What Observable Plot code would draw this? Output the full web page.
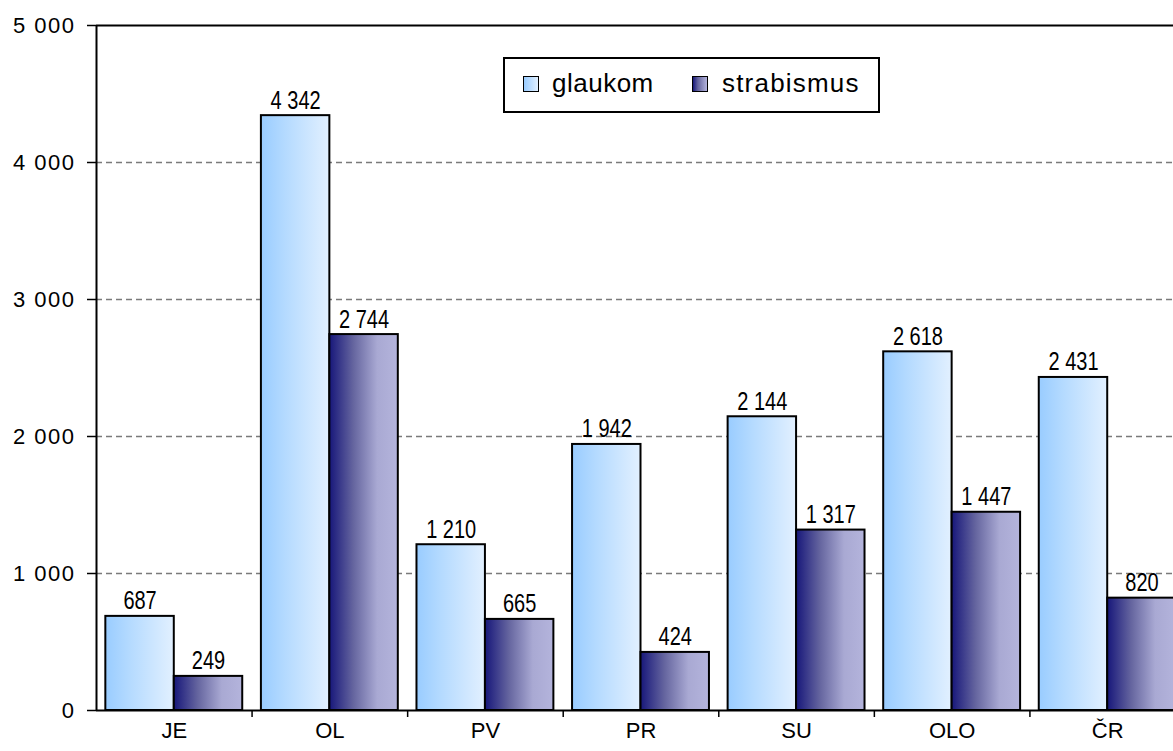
<!DOCTYPE html>
<html><head><meta charset="utf-8">
<script src="https://cdn.jsdelivr.net/npm/d3@7"></script>
<script src="https://cdn.jsdelivr.net/npm/@observablehq/plot@0.6"></script>
<style>
html,body{margin:0;padding:0;overflow:hidden;background:#fff;}
#wrap{position:relative;width:1173px;height:751px;overflow:hidden;}
#wrap svg{position:absolute;left:0;top:0;max-width:none !important;}
#legend{position:absolute;left:503px;top:57px;width:373px;height:52px;border:2px solid #000;background:#fff;
  font-family:"Liberation Sans",Arial,sans-serif;font-size:26px;color:#000;}
#legend .sw{position:absolute;top:17px;width:14px;height:14px;border:1.5px solid #000;}
#legend .lb{position:absolute;top:9px;line-height:30px;}
</style></head><body><div id="wrap"></div>
<script>
const categories = ["JE","OL","PV","PR","SU","OLO","ČR"];
const seriesNames = ["glaukom","strabismus"];
const glaukom = [687,4342,1210,1942,2144,2618,2431];
const strabismus = [249,2744,665,424,1317,1447,820];
const yTicks = [0,1000,2000,3000,4000,5000];
const gridTicks = [1000,2000,3000,4000];

const loc = d3.formatLocale({decimal:",", thousands:"\u00a0", grouping:[3], currency:["",""]});
const fmt = loc.format(",d");

const rows = [];
categories.forEach((c,i)=>{
  rows.push({cat:c, i, s:0, value:glaukom[i], x1:i+0.06, x2:i+0.5});
  rows.push({cat:c, i, s:1, value:strabismus[i], x1:i+0.5, x2:i+0.94});
});

const defs = () => {
  const d = d3.create("svg:defs");
  const g1 = d.append("linearGradient").attr("id","gradG").attr("x1",0).attr("x2",1).attr("y1",0).attr("y2",0);
  [[0,"#99ccff"],[0.35,"#b4daff"],[1,"#e2f0ff"]].forEach(([o,c])=>g1.append("stop").attr("offset",o).attr("stop-color",c));
  const g2 = d.append("linearGradient").attr("id","gradS").attr("x1",0).attr("x2",1).attr("y1",0).attr("y2",0);
  [[0,"#17177a"],[0.35,"#65659f"],[0.7,"#a9a9d3"],[1,"#b4b4dc"]].forEach(([o,c])=>g2.append("stop").attr("offset",o).attr("stop-color",c));
  return d.node();
};

const chart = Plot.plot({
  width: 1186,
  height: 751,
  marginTop: 25,
  marginBottom: 41,
  marginLeft: 96,
  marginRight: 1,
  style: {fontFamily: "'Liberation Sans', Arial, sans-serif", background: "transparent", color: "#000", overflow: "visible"},
  x: {domain: [0, categories.length], axis: null},
  y: {domain: [0, 5000], axis: null},
  marks: [
    defs,
    Plot.ruleY(gridTicks, {stroke: "#7a7a7a", strokeWidth: 1.5, strokeDasharray: "6,4"}),
    Plot.ruleY([5000], {stroke: "#000", strokeWidth: 2}),
    Plot.rectY(rows, {x1: "x1", x2: "x2", y1: 0, y2: "value",
      fill: d => d.s === 0 ? "url(#gradG)" : "url(#gradS)", stroke: "#000", strokeWidth: 2}),
    Plot.text(rows, {x: d => (d.x1 + d.x2) / 2, y: "value", text: d => fmt(d.value),
      lineAnchor: "bottom", dy: -7, fontSize: 24, className: "vlab",
      fontFamily: "'Liberation Sans', Arial, sans-serif", fill: "#000"}),
    Plot.ruleX([0], {stroke: "#000", strokeWidth: 2}),
    Plot.ruleY([0], {stroke: "#000", strokeWidth: 2}),
    Plot.axisY({ticks: yTicks, tickSize: 9, tickPadding: 12, tickFormat: fmt, label: null,
      stroke: "#000", strokeWidth: 1.5, anchor: "left", className: "yax"}),
    Plot.axisX({ticks: d3.range(1, categories.length), tickSize: 7, tickFormat: () => "", label: null, stroke: "#000", strokeWidth: 1.5}),
    Plot.axisX({ticks: d3.range(categories.length).map(i => i + 0.5), tickSize: 0, tickPadding: 12, label: null,
      tickFormat: d => categories[Math.floor(d)], className: "xax"})
  ]
});
const wrap = document.getElementById("wrap");
wrap.appendChild(chart);
chart.querySelectorAll("text").forEach(t => {
  const g = t.closest("g");
  const lbl = g ? (g.getAttribute("aria-label") || "") : "";
  if (lbl.includes("y-axis tick label")) { t.style.fontSize = "22px"; t.setAttribute("letter-spacing", "1.5"); }
  else if (lbl.includes("x-axis tick label")) { t.style.fontSize = "22px"; }
});
// value labels: condensed look via horizontal scale
chart.querySelectorAll("g.vlab text, .vlab text").forEach(t => {
  let x = +t.getAttribute("x") || 0, y = +t.getAttribute("y") || 0;
  const tr = t.getAttribute("transform") || "";
  const m = tr.match(/translate\(([-\d.]+),\s*([-\d.]+)\)/);
  if (m) { x += +m[1]; y += +m[2]; }
  t.removeAttribute("x"); t.removeAttribute("y");
  t.setAttribute("transform", `translate(${x},${y}) scale(0.8,1)`);
  t.style.fontSize = "25px";
});

const legend = document.createElement("div");
legend.id = "legend";
legend.innerHTML = `
  <div class="sw" style="left:18px;background:linear-gradient(to right,#99ccff,#e2f0ff)"></div>
  <div class="lb" style="left:47px;letter-spacing:0.5px">${seriesNames[0]}</div>
  <div class="sw" style="left:187px;background:linear-gradient(to right,#17177a,#65659f 35%,#b4b4dc)"></div>
  <div class="lb" style="left:217px;letter-spacing:1.2px">${seriesNames[1]}</div>`;
wrap.appendChild(legend);
</script></body></html>
